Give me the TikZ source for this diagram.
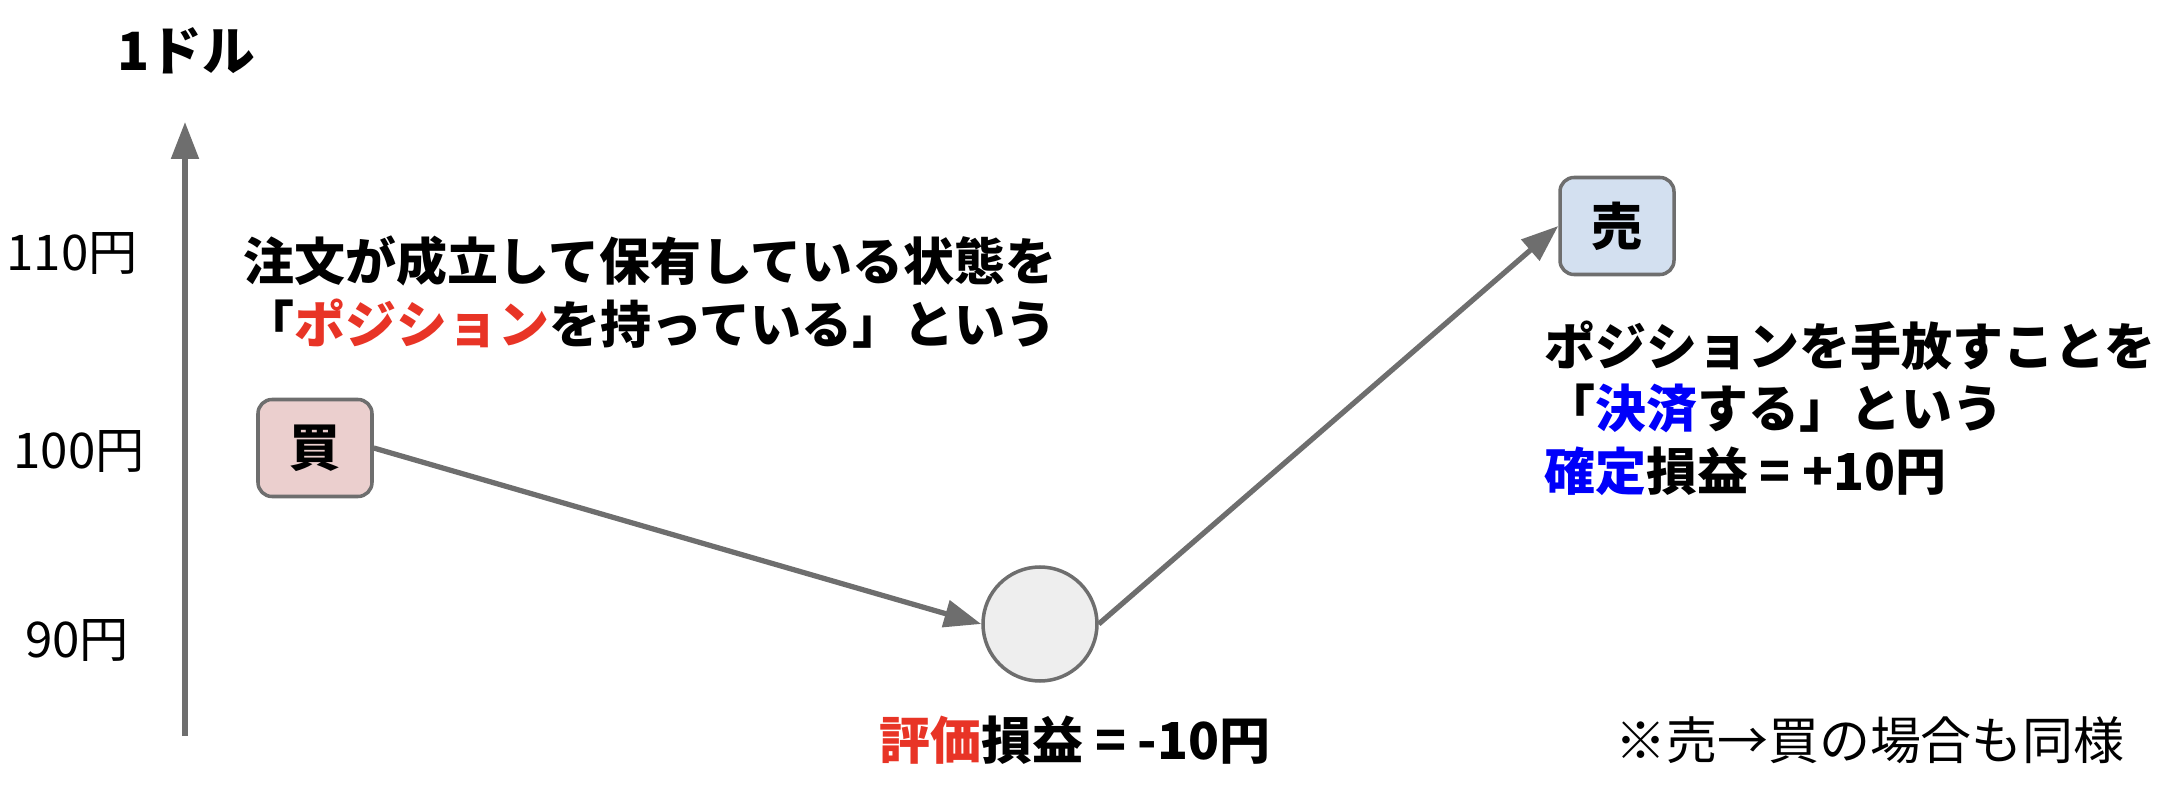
\documentclass[tikz,border=0pt]{standalone}
\usepackage{fontspec}
\setmainfont{Noto Sans CJK JP}
\usetikzlibrary{arrows.meta}
\definecolor{linegray}{RGB}{110,110,110}
\definecolor{buyfill}{RGB}{235,207,206}
\definecolor{sellfill}{RGB}{211,224,240}
\definecolor{dotfill}{RGB}{238,238,238}
\definecolor{hired}{RGB}{232,52,38}
\definecolor{hiblue}{RGB}{0,0,250}
\tikzset{
  trade/.style={draw=linegray, line width=1pt, rounded corners=4pt,
    minimum width=1.14cm, minimum height=0.97cm, font=\fontsize{14.5}{18}\selectfont\bfseries},
  conn/.style={draw=linegray, line width=1.5pt, -{Triangle[length=3.7mm,width=2.7mm]}},
  yen/.style={font=\fontsize{14}{17}\selectfont},
  note/.style={font=\fontsize{14.5}{17.8}\selectfont\bfseries}
}
\begin{document}
\begin{tikzpicture}
  \useasboundingbox (0,0) rectangle (21.78,7.96);
  % price axis
  \coordinate (axlo) at (1.85,0.60);
  \coordinate (axhi) at (1.85,6.74);
  \draw[conn] (axlo) -- (axhi);
  \node[font=\fontsize{15}{18}\selectfont\bfseries] (unit) at (1.86,7.45) {1ドル};
  \node[yen] (p110) at (0.72,5.42) {110円};
  \node[yen] (p100) at (0.79,3.45) {100円};
  \node[yen] (p90) at (0.77,1.56) {90円};
  % trades
  \node[trade, fill=buyfill] (buy) at (3.15,3.48) {買};
  \node[circle, draw=linegray, line width=1pt, fill=dotfill, minimum size=1.14cm] (mid) at (10.40,1.72) {};
  \node[trade, fill=sellfill] (sell) at (16.17,5.70) {売};
  \draw[conn] (buy.east) -- (mid.west);
  \draw[conn] (mid.east) -- (sell.west);
  % notes
  \node[note, align=center] (pos) at (6.50,5.04)
    {注文が成立して保有している状態を\\「\textcolor{hired}{ポジション}を持っている」という};
  \node[note, align=left, anchor=west] (close) at (15.32,3.88)
    {ポジションを手放すことを\\「\textcolor{hiblue}{決済}する」という\\\textcolor{hiblue}{確定}損益 = +10円};
  \node[note] (unreal) at (10.75,0.56) {\textcolor{hired}{評価}損益 = -10円};
  \node[yen, font=\fontsize{14.5}{17}\selectfont] (same) at (18.70,0.56) {※売→買の場合も同様};
\end{tikzpicture}
\end{document}
